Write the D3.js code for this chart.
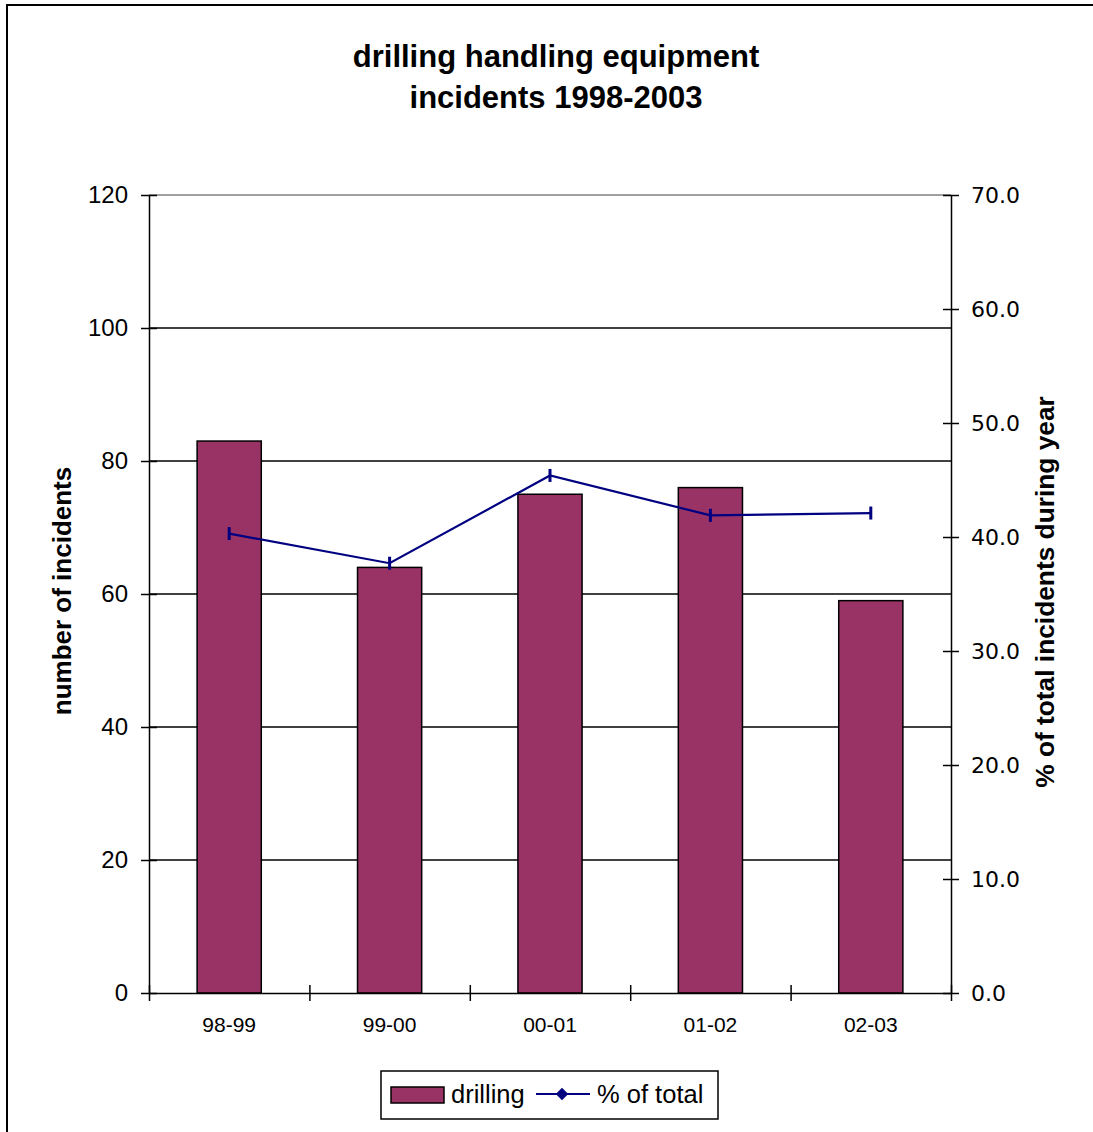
<!DOCTYPE html>
<html><head><meta charset="utf-8">
<script src="https://cdn.jsdelivr.net/npm/d3@7"></script>
<style>body{margin:0;background:#fff}svg{display:block}</style>
</head><body>
<script>
const categories = ["98-99","99-00","00-01","01-02","02-03"];
const drilling = [83, 64, 75, 76, 59];
const pctTotal = [40.3, 37.7, 45.4, 41.9, 42.1];
const leftTicks = [0,20,40,60,80,100,120];
const rightTicks = [0,10,20,30,40,50,60,70];
const titleLines = ["drilling handling equipment","incidents 1998-2003"];

const W=1093,H=1132;
const ARIAL="Liberation Sans, Arial, sans-serif";
const svg=d3.select("body").append("svg").attr("width",W).attr("height",H).style("font-family",ARIAL);
svg.append("rect").attr("x",7).attr("y",5).attr("width",1100).attr("height",1140)
  .attr("fill","#fff").attr("stroke","#000").attr("stroke-width",2);

const L=149,R=951,T=195,B=993;
const x=d3.scaleBand().domain(categories).range([L,R]).padding(0);
const yL=d3.scaleLinear().domain([0,120]).range([B,T]);
const yR=d3.scaleLinear().domain([0,70]).range([B,T]);
const xi=d3.scaleLinear().domain([0,categories.length]).range([L,R]);

// gridlines
svg.append("g").selectAll("line").data(leftTicks.filter(d=>d>0&&d<120)).join("line")
  .attr("x1",L).attr("x2",R).attr("y1",d=>yL(d)).attr("y2",d=>yL(d))
  .attr("stroke","#000").attr("stroke-width",1.5);
svg.append("line").attr("x1",L).attr("x2",R).attr("y1",T).attr("y2",T).attr("stroke","#808080").attr("stroke-width",1.5);

// bars
const bw=x.bandwidth()*0.4;
svg.append("g").selectAll("rect").data(categories).join("rect")
  .attr("x",c=>x(c)+x.bandwidth()*0.3).attr("width",bw)
  .attr("y",(c,i)=>yL(drilling[i])).attr("height",(c,i)=>B-yL(drilling[i]))
  .attr("fill","#993366").attr("stroke","#000").attr("stroke-width",1.5);

// axes
function styleAxis(g){
  g.select(".domain").attr("stroke","#000").attr("stroke-width",1.5);
  g.selectAll(".tick line").attr("stroke","#000").attr("stroke-width",1.5);
}
const gl=svg.append("g").attr("transform",`translate(${L},0)`)
  .call(d3.axisLeft(yL).tickValues(leftTicks).tickSize(8).tickSizeOuter(0).tickPadding(13).tickFormat(d3.format("d")));
styleAxis(gl); gl.selectAll(".tick line").attr("x2",8).attr("x1",-8);
gl.attr("font-family",null).attr("font-size",null);
gl.selectAll("text").style("font-size","24px").attr("fill","#000").style("font-family",ARIAL);

const gr=svg.append("g").attr("transform",`translate(${R},0)`)
  .call(d3.axisRight(yR).tickValues(rightTicks).tickSize(8).tickSizeOuter(0).tickPadding(12).tickFormat(d3.format(".1f")));
styleAxis(gr); gr.selectAll(".tick line").attr("x2",8).attr("x1",-8);
gr.selectAll("text").style("font-size","22px").attr("fill","#000").style("font-family","'DejaVu Sans', sans-serif");

const gb=svg.append("g").attr("transform",`translate(0,${B})`)
  .call(d3.axisBottom(xi).tickValues(d3.range(categories.length+1)).tickSize(8).tickSizeOuter(0).tickFormat(""));
styleAxis(gb); gb.selectAll(".tick line").attr("y1",-8).attr("y2",8);
const gc=svg.append("g").attr("transform",`translate(0,${B})`)
  .call(d3.axisBottom(x).tickSize(0).tickPadding(24));
gc.select(".domain").remove();
gc.selectAll("text").style("font-size","21px").attr("fill","#000").style("font-family",ARIAL);

// line
const cx=c=>x(c)+x.bandwidth()/2;
svg.append("path").datum(categories).attr("fill","none").attr("stroke","#000080").attr("stroke-width",2.2)
  .attr("d",d3.line().x(c=>cx(c)).y((c,i)=>yR(pctTotal[i])));
svg.append("g").selectAll("line").data(categories).join("line")
  .attr("x1",c=>cx(c)).attr("x2",c=>cx(c))
  .attr("y1",(c,i)=>yR(pctTotal[i])-6.5).attr("y2",(c,i)=>yR(pctTotal[i])+6.5)
  .attr("stroke","#000080").attr("stroke-width",3);

// title
svg.append("text").attr("text-anchor","middle").attr("font-weight","bold").style("font-size","31px")
  .selectAll("tspan").data(titleLines).join("tspan").attr("x",556).attr("y",(d,i)=>67+i*41).text(d=>d);

// axis titles
svg.append("text").attr("transform","translate(71,591) rotate(-90)").attr("text-anchor","middle")
  .attr("font-weight","bold").style("font-size","26px").text("number of incidents");
svg.append("text").attr("transform","translate(1054,592) rotate(-90)").attr("text-anchor","middle")
  .attr("font-weight","bold").style("font-size","26.3px").text("% of total incidents during year");

// legend
const lg=svg.append("g");
lg.append("rect").attr("x",381).attr("y",1071).attr("width",337).attr("height",48).attr("fill","#fff").attr("stroke","#000").attr("stroke-width",1.5);
lg.append("rect").attr("x",391).attr("y",1087).attr("width",53).attr("height",16).attr("fill","#993366").attr("stroke","#000").attr("stroke-width",1.5);
lg.append("text").attr("x",451).attr("y",1103).style("font-size","25.5px").text("drilling");
lg.append("line").attr("x1",536).attr("x2",590).attr("y1",1094).attr("y2",1094).attr("stroke","#000080").attr("stroke-width",2);
lg.append("path").attr("d",d3.symbol(d3.symbolDiamond2,100)()).attr("transform","translate(562,1094)").attr("fill","#000080");
lg.append("text").attr("x",597).attr("y",1103).style("font-size","25.5px").text("% of total");
</script>
</body></html>
